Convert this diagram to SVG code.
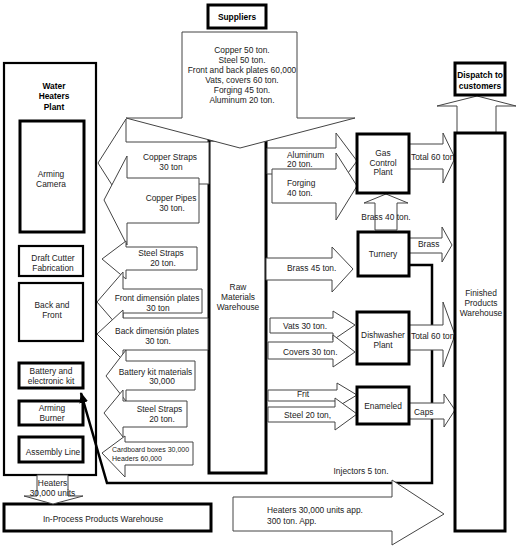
<svg xmlns="http://www.w3.org/2000/svg" width="523" height="550" viewBox="0 0 523 550">
<defs>
<style>
text{font-family:"Liberation Sans",Arial,sans-serif;font-size:8.4px;fill:#222}
.c{text-anchor:middle}
.b{font-weight:bold;fill:#000}
.sm{font-size:7px}
.box{fill:#fff;stroke:#000;stroke-width:3}
.box2{fill:#fff;stroke:#000;stroke-width:2.2}
.arr{fill:#fff;stroke:#444;stroke-width:1;stroke-linejoin:miter}
.ln{fill:none;stroke:#000;stroke-width:2.5}
</style>
<marker id="ah" viewBox="0 0 10 8" refX="9" refY="4" markerWidth="11" markerHeight="9" markerUnits="userSpaceOnUse" orient="auto">
<path d="M0,0 L10,4 L0,8 Z" fill="#000"/>
</marker>
</defs>
<rect width="523" height="550" fill="#fff"/>

<g id="water-heaters-plant">
<rect class="box2" x="4" y="63" width="92" height="412"/>
<text class="c b" x="54" y="89">Water</text>
<text class="c b" x="54" y="99">Heaters</text>
<text class="c b" x="54" y="109.5">Plant</text>
</g>
<g id="arming-camera">
<rect class="box" x="20" y="121" width="64" height="111"/>
<text class="c" x="51" y="177">Arming</text>
<text class="c" x="51" y="187">Camera</text>
</g>
<g id="draft-cutter">
<rect class="box2" x="19" y="246" width="64" height="30"/>
<text class="c" x="53" y="261">Draft Cutter</text>
<text class="c" x="53" y="270.5">Fabrication</text>
</g>
<g id="back-front">
<rect class="box2" x="19" y="283" width="64" height="58"/>
<text class="c" x="52" y="308">Back and</text>
<text class="c" x="52" y="318">Front</text>
</g>
<g id="battery-kit">
<rect class="box" x="19" y="363" width="64" height="25"/>
<text class="c" x="51" y="374">Battery and</text>
<text class="c" x="51" y="384">electronic kit</text>
</g>
<g id="arming-burner">
<rect class="box" x="19" y="401" width="64" height="24" stroke-width="3.5"/>
<text class="c" x="52" y="411">Arming</text>
<text class="c" x="52" y="421">Burner</text>
</g>
<g id="assembly-line">
<rect class="box" x="19" y="437" width="64" height="25"/>
<text class="c" x="53" y="455">Assembly Line</text>
</g>
<g id="in-process-warehouse">
<rect class="box" x="4" y="504" width="207" height="27"/>
<text class="c" x="103" y="522">In-Process Products Warehouse</text>
</g>
<g id="raw-materials-warehouse">
<rect class="box" x="209" y="140" width="57" height="333"/>
<text class="c" x="238" y="290">Raw</text>
<text class="c" x="238" y="300">Materials</text>
<text class="c" x="238" y="310">Warehouse</text>
</g>

<g id="connectors">
<g id="arrow-copper-straps">
<polygon class="arr" points="209,142 126,142 126,119 98,163 126,207 126,184 209,184"/>
<text class="c" x="170" y="160">Copper Straps</text>
<text class="c" x="171" y="170">30 ton</text>
</g>
<g id="arrow-copper-pipes">
<polygon class="arr" points="199,178 127,178 127,156 104,200 127,245 127,223 199,223"/>
<text class="c" x="171" y="201">Copper Pipes</text>
<text class="c" x="172" y="211">30 ton.</text>
</g>
<g id="arrow-steel-straps-1">
<polygon class="arr" points="197,247 126,247 126,241 102,259 126,279 126,270 197,270"/>
<text class="c" x="161" y="256">Steel Straps</text>
<text class="c" x="163" y="266">20 ton.</text>
</g>
<g id="arrow-front-plates">
<polygon class="arr" points="202,289 123,289 123,272 97,302 123,332 123,313 202,313"/>
<text class="c" x="157" y="301">Front dimensión plates</text>
<text class="c" x="158" y="311">30 ton</text>
</g>
<g id="arrow-back-plates">
<polygon class="arr" points="208,318 123,318 123,310 97,334 123,360 123,350 208,350"/>
<text class="c" x="157" y="334">Back dimensión plates</text>
<text class="c" x="158" y="344">30 ton.</text>
</g>
<g id="arrow-battery-materials">
<polygon class="arr" points="195,361 126,361 126,350 106,376 126,401 126,390 195,390"/>
<text class="c" x="155.5" y="375">Battery kit materials</text>
<text class="c" x="162" y="384">30,000</text>
</g>
<g id="arrow-steel-straps-2">
<polygon class="arr" points="187,401 123,401 123,390 104,413 123,437 123,427 187,427"/>
<text class="c" x="159.5" y="412">Steel Straps</text>
<text class="c" x="162" y="422">20 ton.</text>
</g>
<g id="arrow-cardboard">
<polygon class="arr" points="193,442 125,442 125,436 102,453 125,477 125,465 193,465"/>
<text class="sm" x="112" y="452">Cardboard boxes 30,000</text>
<text class="sm" x="112" y="461">Headers 60,000</text>
</g>
<g id="arrow-suppliers">
<polygon class="arr" points="182,32 297,32 297,118 355,118 240,148 126,118 182,118"/>
<text class="c" x="242" y="53">Copper 50 ton.</text>
<text class="c" x="242" y="63">Steel 50 ton.</text>
<text class="c" x="242" y="73">Front and back plates 60,000</text>
<text class="c" x="242" y="83">Vats, covers 60 ton.</text>
<text class="c" x="242" y="93">Forging 45 ton.</text>
<text class="c" x="242" y="103">Aluminum 20 ton.</text>
</g>
<g id="arrow-aluminum">
<polygon class="arr" points="267,148 336,148 336,133 357,161 336,189 336,174 267,174"/>
<text x="287" y="158">Aluminum</text>
<text x="287" y="167">20 ton.</text>
</g>
<g id="arrow-forging">
<polygon class="arr" points="272,169 336,169 336,153 357,186 336,220 336,203 272,203"/>
<text x="287" y="186">Forging</text>
<text x="287" y="196">40 ton.</text>
</g>
<g id="arrow-brass-45">
<polygon class="arr" points="266,258 332,258 332,247 353,269 332,292 332,280 266,280"/>
<text x="287" y="271">Brass 45 ton.</text>
</g>
<g id="arrow-vats">
<polygon class="arr" points="270,318 333,318 333,311 355,325 333,340 333,333 270,333"/>
<text x="283" y="329">Vats 30 ton.</text>
</g>
<g id="arrow-covers">
<polygon class="arr" points="268,342 333,342 333,335 355,352 333,367 333,359 268,359"/>
<text x="283" y="355">Covers 30 ton.</text>
</g>
<g id="arrow-frit">
<polygon class="arr" points="268,390 337,390 337,383 357,395 337,407 337,401 268,401"/>
<text x="297" y="397">Frit</text>
</g>
<g id="arrow-steel-20">
<polygon class="arr" points="268,407 335,407 335,398 357,414 335,430 335,422 268,422"/>
<text x="284" y="418">Steel 20 ton,</text>
</g>
<g id="arrow-brass-40">
<polygon class="arr" points="375,230 375,203 364,203 386,194 408,203 397,203 397,230"/>
<text class="c" x="386" y="220">Brass 40 ton.</text>
</g>
<g id="arrow-gas-total">
<polygon class="arr" points="409,144 443,144 443,133 455,158 443,183 443,169 409,169"/>
<text x="411" y="160">Total 60 ton</text>
</g>
<g id="arrow-brass">
<polygon class="arr" points="409,238 442,238 442,227 452,245 442,262 442,253 409,253"/>
<text x="418" y="247">Brass</text>
</g>
<g id="injectors-line">
<path class="ln" d="M409,265 H432 V483 H107 L81,393" marker-end="url(#ah)"/>
<text x="361" y="474" class="c">Injectors 5 ton.</text>
</g>
<g id="arrow-dish-total">
<polygon class="arr" points="409,325 443,325 443,302 455,335 443,367 443,350 409,350"/>
<text x="411" y="339">Total 60 ton</text>
</g>
<g id="arrow-caps">
<polygon class="arr" points="409,403 444,403 444,394 455,410 444,427 444,419 409,419"/>
<text x="414" y="415">Caps</text>
</g>
<g id="arrow-heaters">
<polygon class="arr" points="37,475 37,496 24,496 53,504 83,496 68,496 68,475"/>
<text class="c" x="52.5" y="486">Heaters</text>
<text class="c" x="52.5" y="496">30,000 units</text>
</g>
<g id="arrow-heaters-out">
<polygon class="arr" points="233,497 392,497 392,480 444,514 392,545 392,531 233,531"/>
<text x="267" y="513">Heaters 30,000 units app.</text>
<text x="267" y="524">300 ton. App.</text>
</g>
<g id="arrow-dispatch">
<polygon class="arr" points="457,133 457,106 437,106 477,96 516,106 496,106 496,133"/>
</g>
</g>

<g id="suppliers">
<rect class="box" x="208" y="5" width="58" height="23" stroke-width="3.5"/>
<text class="c b" x="237" y="20">Suppliers</text>
</g>
<g id="gas-control-plant">
<rect class="box" x="357" y="134" width="52" height="59"/>
<text class="c" x="383" y="156">Gas</text>
<text class="c" x="383" y="166">Control</text>
<text class="c" x="383" y="175">Plant</text>
</g>
<g id="turnery">
<rect class="box" x="358" y="232" width="51" height="44"/>
<text class="c" x="383" y="257">Turnery</text>
</g>
<g id="dishwasher-plant">
<rect class="box" x="357" y="312" width="52" height="52"/>
<text class="c" x="383" y="338">Dishwasher</text>
<text class="c" x="383" y="348">Plant</text>
</g>
<g id="enameled">
<rect class="box" x="357" y="387" width="52" height="37"/>
<text class="c" x="383" y="409">Enameled</text>
</g>
<g id="finished-products-warehouse">
<rect class="box" x="455" y="133" width="50" height="398"/>
<text class="c" x="481" y="296">Finished</text>
<text class="c" x="481" y="306">Products</text>
<text class="c" x="481" y="316">Warehouse</text>
</g>
<g id="dispatch">
<rect class="box" x="455" y="63" width="50" height="32"/>
<text class="c b" x="480" y="78">Dispatch to</text>
<text class="c b" x="480" y="89">customers</text>
</g>
</svg>
